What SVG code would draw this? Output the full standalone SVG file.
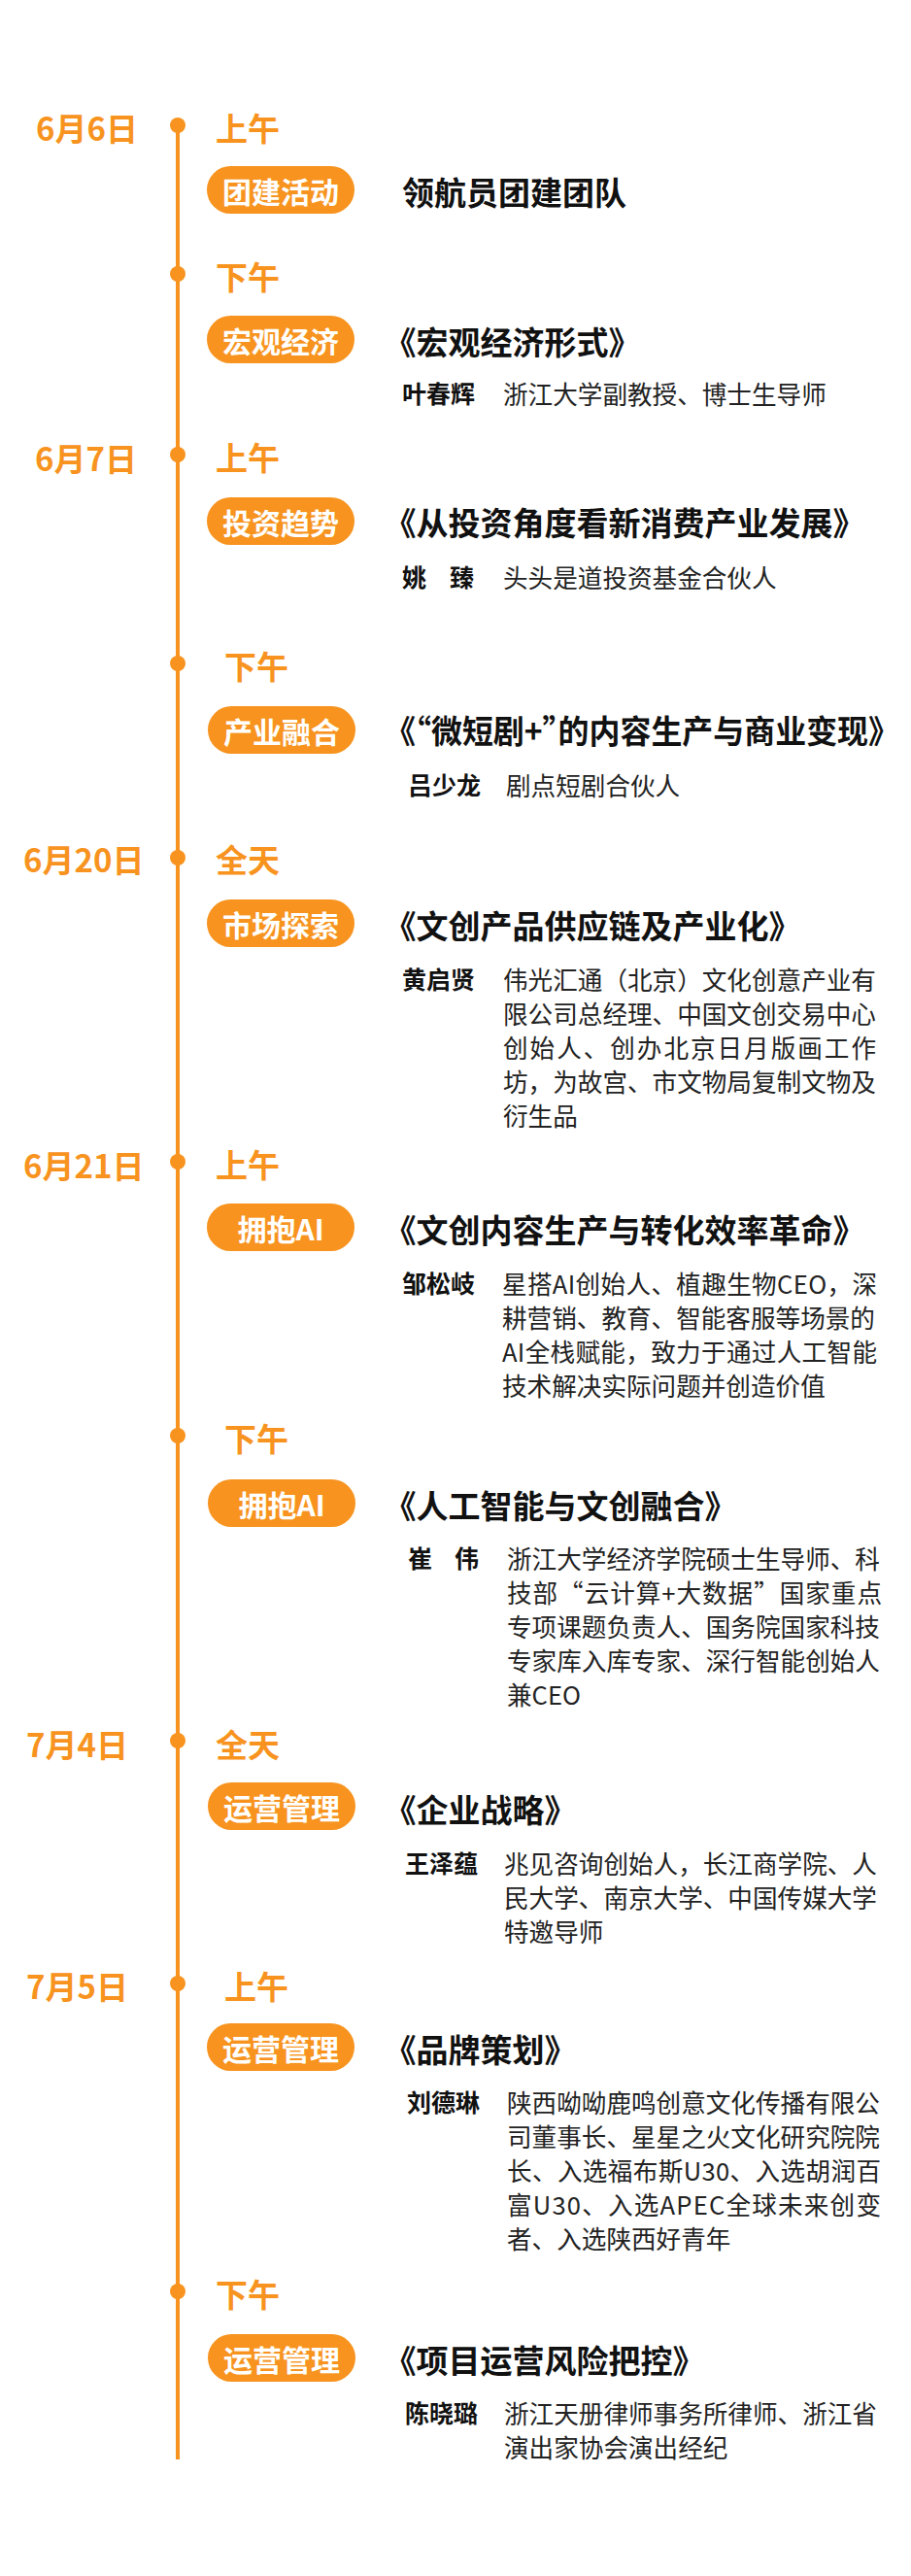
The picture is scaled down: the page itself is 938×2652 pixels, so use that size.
<svg xmlns="http://www.w3.org/2000/svg" width="938" height="2652" viewBox="0 0 938 2652">
<style>
text{font-family:"Noto Sans CJK SC","Noto Sans",sans-serif;dominant-baseline:central}
.date{font-size:33px;font-weight:700;fill:#F7931E}
.time{font-size:33px;font-weight:700;fill:#F7931E}
.pill{fill:#F7931E}
.pt{font-size:30px;font-weight:700;fill:#fff;text-anchor:middle}
.title{font-size:33px;font-weight:700;fill:#111;font-feature-settings:"halt"}
.name{font-size:25px;font-weight:700;fill:#111}
.desc{font-size:25.6px;font-weight:400;fill:#222}
.dot{fill:#F7931E}
</style>
<rect width="938" height="2652" fill="#fff"/>
<g id="connectors">
<line x1="183" y1="129" x2="183" y2="2532" stroke="#F7931E" stroke-width="4"/>
</g>
<g id="dots">
<circle class="dot" cx="183" cy="129" r="8"/>
<circle class="dot" cx="183" cy="282" r="8"/>
<circle class="dot" cx="183" cy="468" r="8"/>
<circle class="dot" cx="183" cy="683" r="8"/>
<circle class="dot" cx="183" cy="883" r="8"/>
<circle class="dot" cx="183" cy="1196" r="8"/>
<circle class="dot" cx="183" cy="1478" r="8"/>
<circle class="dot" cx="183" cy="1792" r="8"/>
<circle class="dot" cx="183" cy="2042" r="8"/>
<circle class="dot" cx="183" cy="2359" r="8"/>
</g>
<g id="day-0606">
<text class="date" x="37" y="131">6月6日</text>
<text class="time" x="222" y="131">上午</text>
</g>
<g id="item-1">
<rect class="pill" x="213" y="171" width="152" height="49" rx="24.5"/>
<text class="pt" x="289" y="196">团建活动</text>
<text class="title" x="414" y="197">领航员团建团队</text>
</g>
<g id="pm-0606">
<text class="time" x="222" y="284">下午</text>
</g>
<g id="item-2">
<rect class="pill" x="213" y="325" width="152" height="49" rx="24.5"/>
<text class="pt" x="289" y="350">宏观经济</text>
<text class="title" x="412" y="351">《宏观经济形式》</text>
<text class="name" x="414" y="404">叶春辉</text>
<text class="desc" x="518" y="404">浙江大学副教授、博士生导师</text>
</g>
<g id="day-0607">
<text class="date" x="36" y="471">6月7日</text>
<text class="time" x="222" y="470">上午</text>
</g>
<g id="item-3">
<rect class="pill" x="213" y="512" width="152" height="49" rx="24.5"/>
<text class="pt" x="289" y="537">投资趋势</text>
<text class="title" x="412" y="537">《从投资角度看新消费产业发展》</text>
<text class="name" y="593"><tspan x="414">姚</tspan><tspan x="463">臻</tspan></text>
<text class="desc" x="518" y="593">头头是道投资基金合伙人</text>
</g>
<g id="pm-0607">
<text class="time" x="231" y="685">下午</text>
</g>
<g id="item-4">
<rect class="pill" x="214" y="727" width="152" height="49" rx="24.5"/>
<text class="pt" x="290" y="752">产业融合</text>
<text class="title" x="412" y="751" textLength="498" lengthAdjust="spacingAndGlyphs">《“微短剧+”的内容生产与商业变现》</text>
<text class="name" x="420" y="807">吕少龙</text>
<text class="desc" x="521" y="807">剧点短剧合伙人</text>
</g>
<g id="day-0620">
<text class="date" x="24" y="884">6月20日</text>
<text class="time" x="222" y="884">全天</text>
</g>
<g id="item-5">
<rect class="pill" x="213" y="926" width="152" height="49" rx="24.5"/>
<text class="pt" x="289" y="951">市场探索</text>
<text class="title" x="412" y="952">《文创产品供应链及产业化》</text>
<text class="name" x="414" y="1007">黄启贤</text>
<text class="desc" x="518" y="1007">伟光汇通（北京）文化创意产业有</text>
<text class="desc" x="518" y="1042">限公司总经理、中国文创交易中心</text>
<text class="desc" x="518" y="1077" textLength="384">创始人、创办北京日月版画工作</text>
<text class="desc" x="518" y="1112">坊，为故宫、市文物局复制文物及</text>
<text class="desc" x="518" y="1147">衍生品</text>
</g>
<g id="day-0621">
<text class="date" x="24" y="1199">6月21日</text>
<text class="time" x="222" y="1198">上午</text>
</g>
<g id="item-6">
<rect class="pill" x="213" y="1239" width="152" height="49" rx="24.5"/>
<text class="pt" x="289" y="1264">拥抱AI</text>
<text class="title" x="412" y="1265">《文创内容生产与转化效率革命》</text>
<text class="name" x="414" y="1320">邹松岐</text>
<text class="desc" x="517" y="1320" textLength="386">星搭AI创始人、植趣生物CEO，深</text>
<text class="desc" x="517" y="1355">耕营销、教育、智能客服等场景的</text>
<text class="desc" x="517" y="1390" textLength="386">AI全栈赋能，致力于通过人工智能</text>
<text class="desc" x="517" y="1425">技术解决实际问题并创造价值</text>
</g>
<g id="pm-0621">
<text class="time" x="231" y="1480">下午</text>
</g>
<g id="item-7">
<rect class="pill" x="214" y="1523" width="152" height="49" rx="24.5"/>
<text class="pt" x="290" y="1548">拥抱AI</text>
<text class="title" x="412" y="1549">《人工智能与文创融合》</text>
<text class="name" y="1603"><tspan x="420">崔</tspan><tspan x="468">伟</tspan></text>
<text class="desc" x="522" y="1603">浙江大学经济学院硕士生导师、科</text>
<text class="desc" x="522" y="1638" textLength="386">技部“云计算+大数据”国家重点</text>
<text class="desc" x="522" y="1673">专项课题负责人、国务院国家科技</text>
<text class="desc" x="522" y="1708">专家库入库专家、深行智能创始人</text>
<text class="desc" x="522" y="1743">兼CEO</text>
</g>
<g id="day-0704">
<text class="date" x="27" y="1795">7月4日</text>
<text class="time" x="222" y="1795">全天</text>
</g>
<g id="item-8">
<rect class="pill" x="214" y="1835" width="152" height="49" rx="24.5"/>
<text class="pt" x="290" y="1860">运营管理</text>
<text class="title" x="412" y="1862">《企业战略》</text>
<text class="name" x="417" y="1917">王泽蕴</text>
<text class="desc" x="519" y="1917">兆见咨询创始人，长江商学院、人</text>
<text class="desc" x="519" y="1952">民大学、南京大学、中国传媒大学</text>
<text class="desc" x="519" y="1987">特邀导师</text>
</g>
<g id="day-0705">
<text class="date" x="27" y="2044">7月5日</text>
<text class="time" x="231" y="2044">上午</text>
</g>
<g id="item-9">
<rect class="pill" x="213" y="2083" width="152" height="49" rx="24.5"/>
<text class="pt" x="289" y="2108">运营管理</text>
<text class="title" x="412" y="2109">《品牌策划》</text>
<text class="name" x="419" y="2163">刘德琳</text>
<text class="desc" x="522" y="2163">陕西呦呦鹿鸣创意文化传播有限公</text>
<text class="desc" x="522" y="2198">司董事长、星星之火文化研究院院</text>
<text class="desc" x="522" y="2233" textLength="385">长、入选福布斯U30、入选胡润百</text>
<text class="desc" x="522" y="2268" textLength="385">富U30、入选APEC全球未来创变</text>
<text class="desc" x="522" y="2303">者、入选陕西好青年</text>
</g>
<g id="pm-0705">
<text class="time" x="222" y="2361">下午</text>
</g>
<g id="item-10">
<rect class="pill" x="214" y="2403" width="152" height="49" rx="24.5"/>
<text class="pt" x="290" y="2428">运营管理</text>
<text class="title" x="412" y="2429">《项目运营风险把控》</text>
<text class="name" x="417" y="2483">陈晓璐</text>
<text class="desc" x="519" y="2483">浙江天册律师事务所律师、浙江省</text>
<text class="desc" x="519" y="2518">演出家协会演出经纪</text>
</g>
</svg>
